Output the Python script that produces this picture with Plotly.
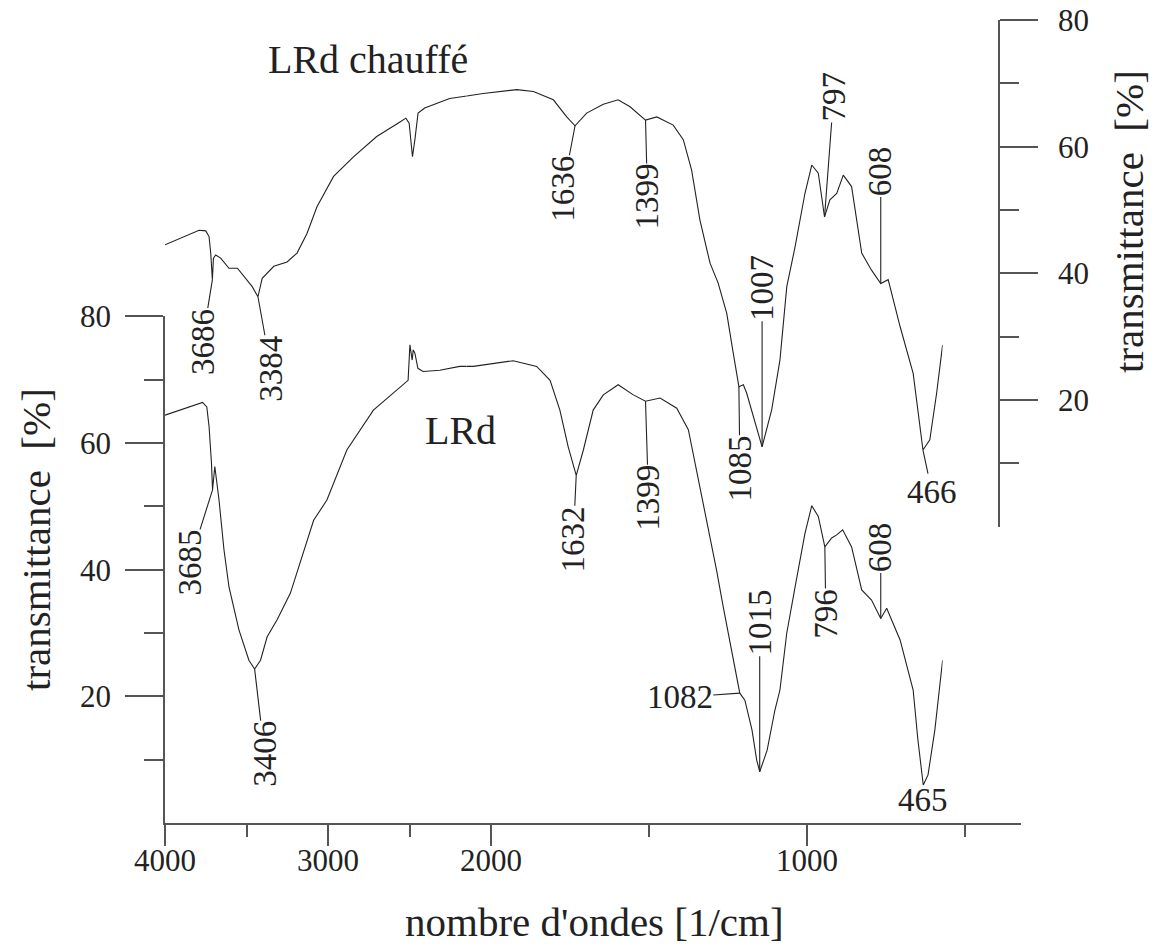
import plotly.graph_objects as go

# ---------------- data ----------------
chauffe_wn = [4000, 3873, 3774, 3730, 3708, 3697, 3686, 3679, 3664, 3631, 3576, 3520, 3477, 3422,
              3384, 3356, 3279, 3191, 3125, 3059, 2993, 2883, 2751, 2597, 2443, 2404, 2382, 2360,
              2344, 2323, 2279, 2114, 2000, 1945, 1832, 1776, 1709, 1664, 1636, 1597, 1541, 1491,
              1451, 1399, 1361, 1306, 1272, 1244, 1216, 1182, 1155, 1126, 1104, 1085, 1070, 1059,
              1007, 975, 947, 924, 896, 863, 840, 818, 797, 779, 756, 734, 706, 672, 639, 608,
              583, 543, 499, 482, 466, 443, 420, 400]
chauffe_T = [44.5, 45.8, 46.8, 46.7, 45.8, 43.2, 39.0, 42.4, 42.9, 42.4, 40.8, 40.8, 39.5, 37.9,
             36.3, 39.2, 41.1, 41.8, 43.2, 46.3, 50.5, 55.3, 58.4, 61.6, 63.9, 64.5, 63.7, 58.4,
             61.1, 65.3, 66.1, 67.6, 68.0, 68.4, 69.0, 68.7, 67.4, 64.7, 63.3, 65.3, 66.7, 67.4,
             66.3, 64.2, 64.7, 63.4, 61.1, 56.3, 48.4, 41.6, 38.5, 33.7, 27.4, 22.1, 22.4, 21.1,
             12.6, 18.4, 26.3, 37.9, 44.2, 52.6, 57.1, 55.8, 48.9, 51.6, 52.6, 55.5, 53.7, 43.2,
             40.5, 38.4, 39.0, 31.6, 24.2, 18.4, 12.1, 13.7, 21.1, 28.7]

lrd_wn = [4000, 3894, 3751, 3723, 3708, 3692, 3685, 3670, 3642, 3609, 3576, 3510, 3444, 3406,
          3367, 3323, 3257, 3169, 3081, 3015, 2927, 2795, 2619, 2389, 2377, 2371, 2362, 2355,
          2344, 2324, 2290, 2179, 2047, 2000, 1978, 1844, 1765, 1720, 1687, 1659, 1632, 1608,
          1575, 1541, 1491, 1440, 1399, 1350, 1294, 1255, 1227, 1193, 1160, 1138, 1104, 1082,
          1065, 1041, 1025, 1015, 990, 964, 947, 924, 896, 863, 840, 818, 796, 773, 756, 736,
          706, 672, 639, 608, 588, 543, 499, 483, 465, 449, 426, 400]
lrd_T = [64.4, 65.2, 66.4, 65.7, 62.6, 56.8, 52.6, 56.3, 51.0, 43.1, 37.3, 30.5, 25.7, 24.3,
         25.7, 29.4, 32.1, 36.3, 42.8, 47.8, 51.0, 58.9, 65.2, 69.9, 75.5, 74.4, 73.1, 74.7,
         74.2, 71.8, 71.3, 71.5, 72.1, 72.1, 72.1, 73.0, 72.1, 69.9, 65.2, 59.4, 54.9, 58.9,
         65.2, 67.6, 69.2, 67.6, 66.6, 67.1, 65.5, 62.1, 55.7, 47.8, 39.9, 34.2, 25.7, 20.5,
         19.4, 14.7, 9.9, 8.1, 11.5, 17.8, 21.0, 30.0, 37.3, 45.7, 50.1, 48.4, 43.6, 45.0,
         45.5, 46.3, 43.6, 36.8, 35.2, 32.3, 33.9, 28.9, 21.0, 13.1, 6.0, 7.6, 14.7, 25.7]

chauffe_peaks = [3686, 3384, 1636, 1399, 1085, 1007, 797, 608, 466]
lrd_peaks = [3685, 3406, 1632, 1399, 1082, 1015, 796, 608, 465]

x_major = [4000, 3000, 2000, 1000]
x_minor = [3500, 2500, 1500, 500]
y_major = [20, 40, 60, 80]
y_minor = [10, 30, 50, 70]

# ---------------- geometry / style ----------------
W, H = 1154, 947
L, R, TOP, BOT = 165, 1021, 20, 823
PW, PH = R - L, BOT - TOP
BREAK = 2000
FONT = "Liberation Serif"
INK = "#222222"
AX = "#555555"
YSCALE = 6.333  # px per % on both transmittance axes


def fx(px):
    return (px - L) / PW


def fy(py):
    return (BOT - py) / PH


# label offsets (pixels, text centre relative to the peak) and angle
chauffe_lab = {3686: (-10, 62, -90), 3384: (13, 72, -90), 1636: (-12, 63, -90),
               1399: (2, 77, -90), 1085: (1, 82, -90), 1007: (0, -159, -90),
               797: (9, -120, -90), 608: (0, -112, -90), 466: (9, 42, 0)}
lrd_lab = {3685: (-23, 73, -90), 3406: (10, 85, -90), 1632: (-3, 64, -90),
           1399: (3, 97, -90), 1082: (-60, 4, 0), 1015: (0, -149, -90),
           796: (1, 67, -90), 608: (0, -71, -90), 465: (0, 15, 0)}

fig = go.Figure()


def add_series(wn, tv, yax):
    hi = [(w, t) for w, t in zip(wn, tv) if w >= BREAK]
    lo = [(w, t) for w, t in zip(wn, tv) if w <= BREAK]
    for seg, xa in ((hi, "x"), (lo, "x2")):
        fig.add_trace(go.Scatter(x=[p[0] for p in seg], y=[p[1] for p in seg],
                                 xaxis=xa, yaxis=yax, mode="lines",
                                 line=dict(color=INK, width=1.1),
                                 showlegend=False, hoverinfo="skip"))


add_series(chauffe_wn, chauffe_T, "y2")
add_series(lrd_wn, lrd_T, "y")

# empty traces so that the printed axes exist
fig.add_trace(go.Scatter(x=[], y=[], xaxis="x3", yaxis="y", showlegend=False))
fig.add_trace(go.Scatter(x=[], y=[], xaxis="x4", yaxis="y", showlegend=False))

annotations = []


def add_labels(wn, tv, peaks, offs, yref):
    for p in peaks:
        i = wn.index(p)
        ax, ay, ang = offs[p]
        annotations.append(dict(
            x=wn[i], y=tv[i], xref="x" if wn[i] >= BREAK else "x2", yref=yref,
            text=str(p), showarrow=True, arrowhead=0, arrowwidth=1.1, arrowcolor=INK,
            ax=ax, ay=ay, standoff=0, textangle=ang, borderpad=0,
            font=dict(family=FONT, size=33, color=INK)))


add_labels(chauffe_wn, chauffe_T, chauffe_peaks, chauffe_lab, "y2")
add_labels(lrd_wn, lrd_T, lrd_peaks, lrd_lab, "y")

texts = [
    ("LRd chauffé", 368, 60, 0, 40),
    ("LRd", 460, 430, 0, 40),
    ("nombre d'ondes [1/cm]", 594, 922, 0, 41),
    ("transmittance  [%]", 36, 540, -90, 41),
    ("transmittance  [%]", 1129, 222, -90, 41),
]
for t, px, py, ang, size in texts:
    annotations.append(dict(x=fx(px), y=fy(py), xref="paper", yref="paper", text=t,
                            showarrow=False, textangle=ang, xanchor="center", yanchor="middle",
                            font=dict(family=FONT, size=size, color=INK)))

tickfont = dict(family=FONT, size=31, color=INK)
hidden = dict(visible=False, showgrid=False, zeroline=False, anchor="y")
printed = dict(showline=True, linecolor=AX, linewidth=1.5, ticks="outside", ticklen=21,
               tickwidth=1.5, tickcolor=AX, showgrid=False, zeroline=False, anchor="y",
               tickfont=tickfont, tickmode="array", ticklabelstandoff=-12, automargin=False)
yax_style = dict(showline=True, linecolor=AX, linewidth=1.5, ticks="outside", ticklen=38,
                 tickwidth=1.5, tickcolor=AX, showgrid=False, zeroline=False, range=[0, 80],
                 tickfont=tickfont, tickmode="array", tickvals=y_major,
                 ticktext=[str(v) for v in y_major], ticklabelstandoff=8, automargin=False,
                 minor=dict(tickmode="array", tickvals=y_minor, ticks="outside", ticklen=19,
                            tickwidth=1.5, tickcolor=AX))

x_split_data = 466.8
x_end_data = 942.6
x_split_axis = 491
axis_low_scale = 0.316  # px per cm-1 on the printed low segment

fig.update_layout(
    width=W, height=H,
    margin=dict(l=L, r=W - R, t=TOP, b=H - BOT, autoexpand=False),
    paper_bgcolor="white", plot_bgcolor="rgba(0,0,0,0)", showlegend=False,
    xaxis=dict(hidden, domain=[0, fx(x_split_data)], range=[4000, BREAK]),
    xaxis2=dict(hidden, domain=[fx(x_split_data), fx(x_end_data)], range=[BREAK, 400]),
    xaxis3=dict(printed, domain=[0, fx(x_split_axis)], range=[4000, BREAK],
                tickvals=[v for v in x_major if v >= BREAK],
                ticktext=[str(v) for v in x_major if v >= BREAK],
                minor=dict(tickmode="array", tickvals=[v for v in x_minor if v > BREAK],
                           ticks="outside", ticklen=12, tickwidth=1.5, tickcolor=AX)),
    xaxis4=dict(printed, domain=[fx(x_split_axis), 1],
                range=[BREAK, BREAK - (R - x_split_axis) / axis_low_scale],
                tickvals=[v for v in x_major if v < BREAK],
                ticktext=[str(v) for v in x_major if v < BREAK],
                minor=dict(tickmode="array", tickvals=[v for v in x_minor if v < BREAK],
                           ticks="outside", ticklen=12, tickwidth=1.5, tickcolor=AX)),
    yaxis=dict(yax_style, domain=[0, fy(BOT - 80 * YSCALE)], anchor="x3"),
    yaxis2=dict(yax_style, domain=[fy(TOP + 80 * YSCALE), 1], anchor="free", position=fx(999),
                side="right", ticklabelstandoff=14),
    annotations=annotations,
)

fig.write_html("out.html")
